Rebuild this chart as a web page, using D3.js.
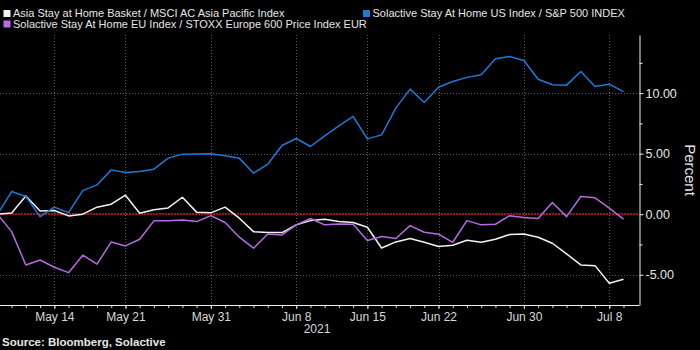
<!DOCTYPE html>
<html>
<head>
<meta charset="utf-8">
<script src="https://cdn.jsdelivr.net/npm/d3@7"></script>
<style>
  html, body { margin: 0; padding: 0; background: #000; }
  svg { display: block; font-family: "Liberation Sans", Arial, sans-serif; }
</style>
</head>
<body>
<div id="chart"></div>
<script>
// trading days (weekdays) May 10 - Jul 9 2021
const dates = [
  '2021-05-10','2021-05-11','2021-05-12','2021-05-13','2021-05-14',
  '2021-05-17','2021-05-18','2021-05-19','2021-05-20','2021-05-21',
  '2021-05-24','2021-05-25','2021-05-26','2021-05-27','2021-05-28',
  '2021-05-31','2021-06-01','2021-06-02','2021-06-03','2021-06-04',
  '2021-06-07','2021-06-08','2021-06-09','2021-06-10','2021-06-11',
  '2021-06-14','2021-06-15','2021-06-16','2021-06-17','2021-06-18',
  '2021-06-21','2021-06-22','2021-06-23','2021-06-24','2021-06-25',
  '2021-06-28','2021-06-29','2021-06-30','2021-07-01','2021-07-02',
  '2021-07-05','2021-07-06','2021-07-07','2021-07-08','2021-07-09'
]

const xTickDates = ['2021-05-14','2021-05-21','2021-05-31','2021-06-08','2021-06-15','2021-06-22','2021-06-30','2021-07-08']
const xTickLabels = ['May 14','May 21','May 31','Jun 8','Jun 15','Jun 22','Jun 30','Jul 8']
const yTicks = [-5, 0, 5, 10]
const yMinorTicks = [-2.5, 2.5, 7.5, 12.5]

const asia = [0, 0.1, 1.51, 0.27, 0.3, -0.14, 0.0, 0.58, 0.83, 1.57,
  0.08, 0.36, 0.52, 1.4, 0.17, 0.11, 0.58, -0.33, -1.44, -1.52,
  -1.52, -0.88, -0.53, -0.41, -0.61, -0.69, -1.08, -2.79, -2.29, -2.01,
  -2.32, -2.67, -2.56, -2.15, -2.32, -2.07, -1.68, -1.63, -1.9, -2.4,
  -3.28, -4.19, -4.25, -5.7, -5.37]

const us = [0, 1.87, 1.46, -0.2, 0.58, 0.13, 1.95, 2.42, 3.66, 3.44,
  3.52, 3.72, 4.63, 4.96, 4.98, 5.0, 4.82, 4.63, 3.39, 4.13,
  5.67, 6.25, 5.59, 6.47, 7.3, 8.07, 6.22, 6.55, 8.76, 10.33,
  9.22, 10.49, 10.96, 11.3, 11.51, 12.83, 13.03, 12.7, 11.15, 10.69,
  10.66, 11.79, 10.55, 10.74, 10.13]

const eu = [0, -1.44, -4.19, -3.78, -4.38, -4.83, -3.39, -4.13, -2.29, -2.62,
  -2.07, -0.55, -0.55, -0.47, -0.61, -0.12, -0.69, -1.9, -2.81, -1.63,
  -1.71, -0.88, -0.36, -0.88, -0.8, -0.83, -2.18, -1.85, -2.01, -0.94,
  -1.49, -1.65, -2.32, -0.53, -0.88, -0.83, -0.12, -0.28, -0.36, 0.96,
  -0.2, 1.46, 1.35, 0.5, -0.41]

const seriesNames = [
  'Asia Stay at Home Basket / MSCI AC Asia Pacific Index',
  'Solactive Stay At Home EU Index / STOXX Europe 600 Price Index EUR',
  'Solactive Stay At Home US Index / S&P 500 INDEX'
]
const seriesColors = ['#f2f2f2', '#b46be3', '#1d7ad6']
const seriesData = [asia, eu, us]

const width = 700, height = 350
const plot = { left: 0, right: 639, top: 35, bottom: 305 }

const svg = d3.select('#chart').append('svg')
  .attr('width', width)
  .attr('height', height)

svg.append('rect').attr('width', width).attr('height', height).attr('fill', '#000')

const x = d3.scalePoint()
  .domain(dates)
  .range([-2.6, 623.5])

const y = d3.scaleLinear()
  .domain([-7.5, 14.8])
  .range([plot.bottom, plot.top])

// grid lines
svg.append('g')
  .selectAll('line')
  .data(xTickDates)
  .join('line')
  .attr('x1', d => Math.round(x(d)) + 0.5)
  .attr('x2', d => Math.round(x(d)) + 0.5)
  .attr('y1', plot.top)
  .attr('y2', plot.bottom)
  .attr('stroke', '#5a5a5a')
  .attr('stroke-dasharray', '1,2')

svg.append('g')
  .selectAll('line')
  .data(yTicks.filter(d => d !== 0))
  .join('line')
  .attr('x1', plot.left)
  .attr('x2', plot.right)
  .attr('y1', d => Math.round(y(d)) + 0.5)
  .attr('y2', d => Math.round(y(d)) + 0.5)
  .attr('stroke', '#5a5a5a')
  .attr('stroke-dasharray', '1,2')

// red zero line
svg.append('line')
  .attr('x1', plot.left)
  .attr('x2', plot.right)
  .attr('y1', Math.round(y(0)))
  .attr('y2', Math.round(y(0)))
  .attr('stroke', '#e0102e')
  .attr('stroke-width', 1.6)
  .attr('stroke-dasharray', '2,1')

// lines
svg.append('clipPath').attr('id', 'clip')
  .append('rect')
  .attr('x', plot.left).attr('y', plot.top)
  .attr('width', plot.right - plot.left).attr('height', plot.bottom - plot.top)

const line = d3.line()
  .x((d, i) => x(dates[i]))
  .y(d => y(d))

svg.append('g')
  .attr('clip-path', 'url(#clip)')
  .selectAll('path')
  .data(seriesData)
  .join('path')
  .attr('d', d => line(d))
  .attr('fill', 'none')
  .attr('stroke', (d, i) => seriesColors[i])
  .attr('stroke-width', 1.5)
  .attr('stroke-linejoin', 'round')

// x axis: minor ticks every trading day, labels at the major ones
const xMinor = svg.append('g')
  .attr('transform', `translate(0,${plot.bottom})`)
  .call(d3.axisBottom(x).tickValues(dates).tickSize(3).tickFormat('').tickSizeOuter(0))
xMinor.select('.domain').remove()
xMinor.selectAll('line').attr('stroke', '#d9d9d9')

const xMajor = svg.append('g')
  .attr('transform', `translate(0,${plot.bottom})`)
  .call(d3.axisBottom(x).tickValues(xTickDates).tickSize(4)
    .tickFormat(d => xTickLabels[xTickDates.indexOf(d)]).tickPadding(3))
xMajor.select('.domain').remove()
xMajor.selectAll('line').attr('stroke', '#d9d9d9')
xMajor.selectAll('text').attr('fill', '#d9d9d9').attr('font-size', '12px')
  .attr('font-family', '"Liberation Sans", Arial, sans-serif')

svg.append('line')
  .attr('x1', plot.left).attr('x2', plot.right + 0.5)
  .attr('y1', plot.bottom + 0.5).attr('y2', plot.bottom + 0.5)
  .attr('stroke', '#f0f0f0')

svg.append('text')
  .attr('x', 317)
  .attr('y', 333)
  .attr('text-anchor', 'middle')
  .attr('fill', '#d9d9d9')
  .attr('font-size', '12px')
  .text('2021')

// right y axis
const yAxis = svg.append('g')
  .attr('transform', `translate(${plot.right + 0.5},0)`)
  .call(d3.axisRight(y).tickValues(yTicks).tickSize(4).tickPadding(2)
    .tickFormat(d => d.toFixed(2)).tickSizeOuter(0))
yAxis.select('.domain').attr('stroke', '#f0f0f0')
yAxis.selectAll('line').attr('stroke', '#f0f0f0')
yAxis.selectAll('text').attr('fill', '#e6e6e6').attr('font-size', '12.5px')
  .attr('font-family', '"Liberation Sans", Arial, sans-serif')

const yMinor = svg.append('g')
  .attr('transform', `translate(${plot.right + 0.5},0)`)
  .call(d3.axisRight(y).tickValues(yMinorTicks).tickSize(3).tickFormat(''))
yMinor.select('.domain').remove()
yMinor.selectAll('line').attr('stroke', '#f0f0f0')

svg.append('text')
  .attr('transform', 'translate(685,170) rotate(90)')
  .attr('text-anchor', 'middle')
  .attr('fill', '#e6e6e6')
  .attr('font-size', '15px')
  .text('Percent')

// legend
const legendPos = [[3.5, 10], [3.5, 20.5], [363, 10]]
const legend = svg.append('g')
  .selectAll('g')
  .data(seriesNames)
  .join('g')
  .attr('transform', (d, i) => `translate(${legendPos[i][0]},${legendPos[i][1]})`)

legend.append('rect')
  .attr('width', 7).attr('height', 7)
  .attr('fill', (d, i) => seriesColors[i])

legend.append('text')
  .attr('x', 9.5)
  .attr('y', 7)
  .attr('fill', '#e6e6e6')
  .attr('font-size', '11px')
  .text(d => d)

// source
svg.append('text')
  .attr('x', 2)
  .attr('y', 346)
  .attr('fill', '#e6e6e6')
  .attr('font-size', '11.5px')
  .attr('font-weight', 'bold')
  .text('Source: Bloomberg, Solactive')
</script>
</body>
</html>
